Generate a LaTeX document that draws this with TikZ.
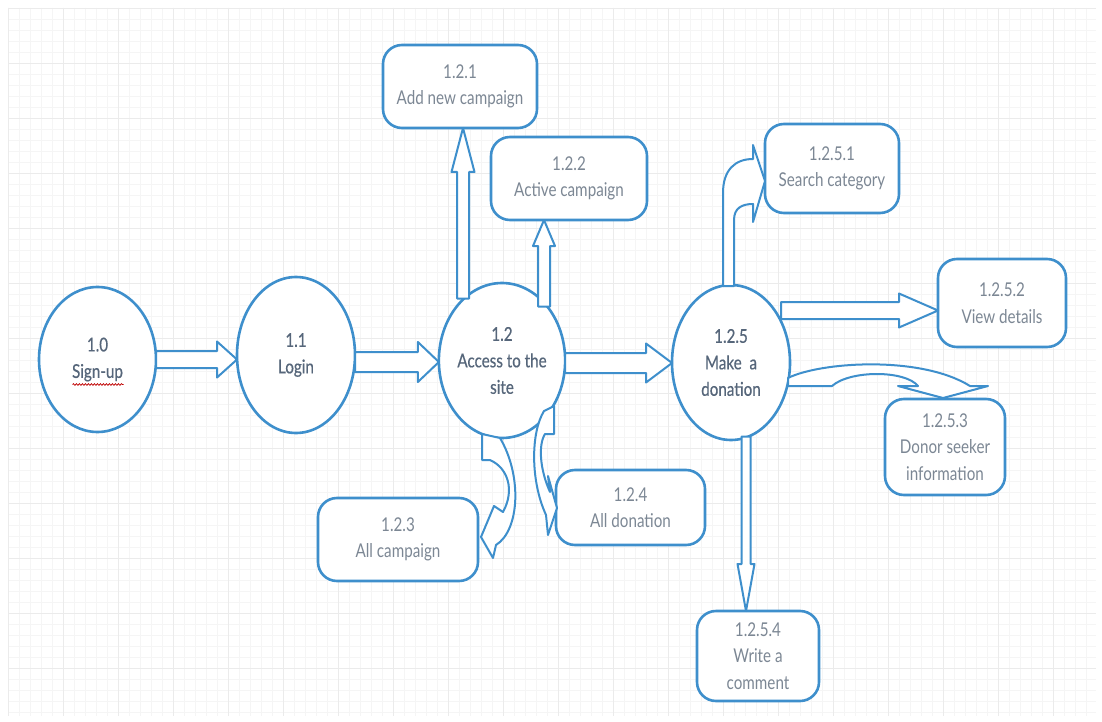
\documentclass[tikz,border=0pt]{standalone}
\usepackage{fontspec}
\usetikzlibrary{shapes.geometric,calc,decorations.pathmorphing}
\newfontfamily\latofont{Lato}[FakeStretch=0.8]
\newfontfamily\latosemi{Lato}[FakeBold=0.5,FakeStretch=0.8]
\definecolor{lineblue}{HTML}{3E8FCC}
\definecolor{elltext}{HTML}{56667A}
\definecolor{boxtext}{HTML}{7C8794}
\definecolor{gridminor}{HTML}{F5F5F5}
\definecolor{gridmajor}{HTML}{EBEBEB}
\newcommand{\blockarrow}[5]{%
  \coordinate (bas) at (#1);
  \coordinate (bae) at (#2);
  \coordinate (bah) at ($(bae)!#5!(bas)$);
  \draw[arrowline] ($(bas)!#3!90:(bae)$) -- ($(bah)!#3!90:(bae)$) -- ($(bah)!#4!90:(bae)$) -- (bae)
    -- ($(bah)!#4!-90:(bae)$) -- ($(bah)!#3!-90:(bae)$) -- ($(bas)!#3!-90:(bae)$) -- cycle;
}
\tikzset{
  proc/.style={ellipse, draw=lineblue, line width=2.6pt, fill=white, inner sep=0pt, outer sep=0pt,
    align=center, text=elltext, font={\latosemi\fontsize{19pt}{26.5pt}\selectfont},
    execute at begin node={\rule{0pt}{20pt}}},
  box/.style={rectangle, rounded corners=19pt, draw=lineblue, line width=2.6pt, fill=white,
    inner sep=0pt, outer sep=0pt, align=center, text=boxtext,
    font={\latofont\fontsize{19pt}{26.5pt}\selectfont},
    execute at begin node={\rule{0pt}{20pt}}},
  arrowline/.style={draw=lineblue, line width=2pt, fill=white, line join=round},
  gridthin/.style={draw=gridminor, line width=0.7pt},
  gridthick/.style={draw=gridmajor, line width=0.8pt},
  squiggle/.style={draw=red!75!black, line width=0.7pt, decorate,
    decoration={snake, amplitude=0.9pt, segment length=3pt}}
}
\begin{document}
\begin{tikzpicture}[x=1pt,y=-1pt]
\useasboundingbox (0,0) rectangle (1102,722);
\fill[white] (0,0) rectangle (1102,722);
% background grid
\foreach \gx in {8,19,...,1096} \draw[gridthin] (\gx,8) -- (\gx,716);
\foreach \gy in {8,19,...,716} \draw[gridthin] (8,\gy) -- (1096,\gy);
\foreach \gx in {8,63,...,1096} \draw[gridthick] (\gx,8) -- (\gx,716);
\foreach \gy in {8,63,...,716} \draw[gridthick] (8,\gy) -- (1096,\gy);

% process ellipses
\node[proc, minimum width=117pt, minimum height=145pt] (n10) at (97.5,359.5) {1.0\\Sign-up};
\node[proc, minimum width=118pt, minimum height=156pt] (n11) at (296,355) {1.1\\Login};
\node[proc, minimum width=118pt, minimum height=155pt] (n12) at (502,360.5) {1.2\\Access to the\\site};
\node[proc, minimum width=118pt, minimum height=155pt] (n125) at (731,362.5) {1.2.5\\Make~ a\\donation};

% boxes
\node[box, minimum width=154pt, minimum height=83pt] (b121) at (460,86.5) {1.2.1\\Add new campaign};
\node[box, minimum width=156pt, minimum height=83pt] (b122) at (569,178.5) {1.2.2\\Active campaign};
\node[box, minimum width=160pt, minimum height=83pt] (b123) at (398,539.5) {1.2.3\\All campaign};
\node[box, minimum width=149pt, minimum height=75pt] (b124) at (630.5,507.5) {1.2.4\\All donation};
\node[box, minimum width=134pt, minimum height=89pt] (b1251) at (832,168.5) {1.2.5.1\\Search category};
\node[box, minimum width=128pt, minimum height=88pt] (b1252) at (1002,303) {1.2.5.2\\View details};
\node[box, minimum width=120pt, minimum height=96pt] (b1253) at (945,447) {1.2.5.3\\Donor seeker\\information};
\node[box, minimum width=122pt, minimum height=90pt] (b1254) at (758,656) {1.2.5.4\\Write a\\comment};

% spell-check underline
\draw[squiggle] ($(n10.center)+(-25,25)$) -- ($(n10.center)+(26,25)$);

% straight block arrows
\blockarrow{n10.east}{n10.east -| n11.west}{8.5pt}{18pt}{20pt}
\coordinate (p1) at ([yshift=-7pt]n11.east);
\blockarrow{p1}{p1 -| n12.west}{10pt}{20pt}{21pt}
\coordinate (p2) at ([yshift=-2.5pt]n12.east);
\blockarrow{p2}{p2 -| n125.west}{10pt}{19.5pt}{26pt}
\coordinate (p3) at ($(n12.center)+(-39,-62)$);
\blockarrow{p3}{p3 |- b121.south}{6pt}{11.5pt}{44pt}
\coordinate (p4) at ($(n12.center)+(42,-54)$);
\blockarrow{p4}{p4 |- b122.south}{6pt}{11pt}{26pt}
\coordinate (p5) at ($(n125.center)+(50,-52)$);
\blockarrow{p5}{p5 -| b1252.west}{8.5pt}{17pt}{39pt}
\coordinate (p6) at ($(n125.center)+(15,74)$);
\blockarrow{p6}{p6 |- b1254.north}{4.5pt}{8.5pt}{47pt}

% curved block arrows from 1.2.5
\begin{scope}[shift={(n125.center)}]
\draw[arrowline] (-8,-76.5) -- (-8,-169.5) .. controls (-8,-192.5) and (4,-203.5) .. (22,-203.5)
  -- (22,-217.5) -- (34,-181.5) -- (22,-140.5) -- (22,-158.5)
  .. controls (11,-158.5) and (3,-154.5) .. (3,-142.5) -- (3,-76.5) -- cycle;
\draw[arrowline] (57,15.5) .. controls (89,-0.5) and (189,-7.5) .. (239,23.5)
  -- (257,23.5) -- (212,35.5) -- (167,23.5) -- (187,23.5)
  .. controls (174,7.5) and (119,7.5) .. (101,23.5) -- (57,23.5) -- cycle;
\end{scope}
% curved block arrows from 1.2
\begin{scope}[shift={(n12.center)}]
\draw[arrowline] (-20,73.5) -- (-20,99.5) -- (-12,99.5) .. controls (6,107.5) and (13,129.5) .. (1,151.5)
  -- (-8,145.5) -- (-21,176.5) -- (-9,197.5) -- (-6,184.5)
  .. controls (18,169.5) and (20,114.5) .. (-2,77.5) -- cycle;
\draw[arrowline] (42,50.5) .. controls (29,71.5) and (28,119.5) .. (44,154.5)
  -- (46,174.5) -- (55,147.5) -- (46,115.5) -- (48,131.5)
  .. controls (38,109.5) and (36,84.5) .. (43,73.5) -- (52,73.5) -- (52,45.5) -- cycle;
\end{scope}
\end{tikzpicture}
\end{document}
